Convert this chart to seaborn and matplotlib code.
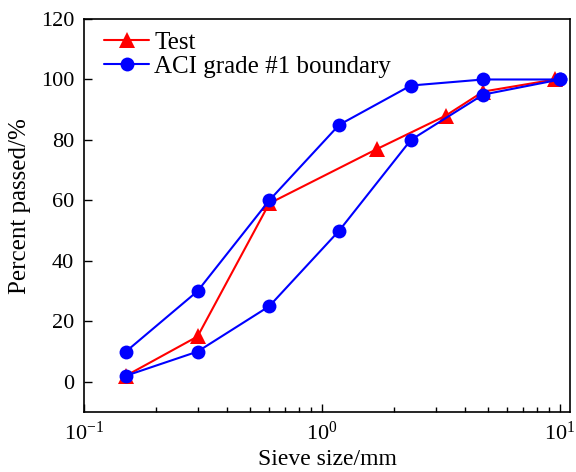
import matplotlib
matplotlib.use("Agg")
import matplotlib.pyplot as plt
import seaborn as sns
import pandas as pd
from matplotlib.ticker import LogLocator, FixedLocator

# Data
test_size = [0.15, 0.3, 0.6, 1.7, 3.3, 4.75, 9.5]
test_pass = [2, 15, 59, 77, 88, 96, 100]
aci_size = [0.15, 0.3, 0.6, 1.18, 2.36, 4.75, 10]
aci_upper = [10, 30, 60, 85, 98, 100, 100]
aci_lower = [2, 10, 25, 50, 80, 95, 100]
y_ticks = [0, 20, 40, 60, 80, 100, 120]

sns.set_style("ticks")
plt.rcParams['font.family'] = ['Liberation Serif', 'DejaVu Serif']
plt.rcParams['mathtext.fontset'] = 'custom'
plt.rcParams['mathtext.rm'] = 'Liberation Serif'
plt.rcParams['mathtext.it'] = 'Liberation Serif:italic'
plt.rcParams['text.color'] = 'black'
plt.rcParams['axes.labelcolor'] = 'black'
plt.rcParams['xtick.color'] = 'black'
plt.rcParams['ytick.color'] = 'black'

fig = plt.figure(figsize=(5.76, 4.72), dpi=100)
ax = fig.add_axes([0.1458, 0.127, 0.8438, 0.8327])

df_t = pd.DataFrame({"x": test_size, "y": test_pass})
df_u = pd.DataFrame({"x": aci_size, "y": aci_upper})
df_l = pd.DataFrame({"x": aci_size, "y": aci_lower})

sns.lineplot(data=df_t, x="x", y="y", ax=ax, color="red", marker="^",
             markersize=11, markeredgewidth=0, linewidth=1.5, sort=False,
             label="Test", estimator=None)
sns.lineplot(data=df_u, x="x", y="y", ax=ax, color="blue", marker="o",
             markersize=10, markeredgewidth=0, linewidth=1.5, sort=False,
             label="ACI grade #1 boundary", estimator=None)
sns.lineplot(data=df_l, x="x", y="y", ax=ax, color="blue", marker="o",
             markersize=10, markeredgewidth=0, linewidth=1.5, sort=False,
             label="_nolegend_", estimator=None)

ax.set_xscale("log")
ax.set_xlim(0.1, 11.0)
ax.set_ylim(-10, 120)
ax.yaxis.set_major_locator(FixedLocator(y_ticks))
ax.xaxis.set_major_locator(LogLocator(base=10, numticks=10))
ax.xaxis.set_minor_locator(LogLocator(base=10, subs=range(2, 10), numticks=20))

ax.tick_params(axis="both", which="major", direction="in", length=6, width=1,
               labelsize=16, top=False, right=False, color="black", pad=7)
ax.tick_params(axis="x", which="minor", direction="in", length=3.5, width=1,
               top=False, color="black")
for s in ax.spines.values():
    s.set_linewidth(1.2)
    s.set_color("black")

ax.set_xlabel("Sieve size/mm", fontsize=17, labelpad=3)
ax.set_ylabel("Percent passed/%", fontsize=18, labelpad=6)
ax.yaxis.set_label_coords(-0.108, 0.525)

leg = ax.legend(loc="upper left", bbox_to_anchor=(0.016, 1.0), frameon=False,
                fontsize=18, handlelength=1.8, handletextpad=0.2,
                labelspacing=0.05, borderaxespad=0.2, borderpad=0.3)

fig.savefig("out.png", dpi=100)
